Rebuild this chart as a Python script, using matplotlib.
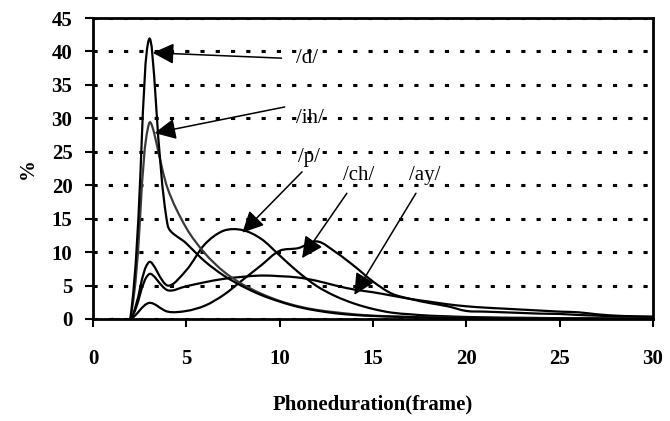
import numpy as np
import matplotlib
matplotlib.use('Agg')
import matplotlib.pyplot as plt
from matplotlib.path import Path
from matplotlib.patches import PathPatch

plt.rcParams['font.family'] = ['Liberation Serif', 'DejaVu Serif']
plt.rcParams['lines.scale_dashes'] = False

frames = list(range(1, 31))
d  = [0, 0, 41.8, 14.0, 11.3, 8.6, 6.5, 4.9, 3.6, 2.6, 1.8, 1.25, 0.85, 0.6, 0.45, 0.35,
      0.28, 0.22, 0.18, 0.15, 0.12, 0.1, 0.1, 0.08, 0.08, 0.07, 0.06, 0.05, 0.05, 0.05]
ih = [0, 0, 29.2, 19.5, 13.6, 9.8, 7.1, 5.2, 3.8, 2.7, 1.9, 1.35, 1.0, 0.7, 0.5, 0.4,
      0.32, 0.26, 0.2, 0.16, 0.14, 0.12, 0.1, 0.1, 0.08, 0.08, 0.07, 0.06, 0.05, 0.05]
p  = [0, 0, 8.5, 5.0, 7.3, 11.2, 13.2, 13.3, 12.0, 9.5, 7.0, 4.9, 3.4, 2.3, 1.5, 0.95,
      0.7, 0.5, 0.4, 0.3, 0.25, 0.2, 0.18, 0.15, 0.12, 0.1, 0.1, 0.08, 0.08, 0.07]
ch = [0, 0, 2.4, 1.1, 1.2, 2.0, 3.6, 5.8, 8.0, 10.2, 10.6, 11.6, 10.0, 7.9, 5.6, 3.8,
      3.0, 2.4, 1.9, 1.2, 1.1, 1.0, 0.9, 0.8, 0.75, 0.6, 0.5, 0.4, 0.35, 0.3]
ay = [0, 0, 6.7, 4.3, 4.9, 5.5, 6.0, 6.3, 6.5, 6.4, 6.2, 5.7, 5.0, 4.4, 4.0, 3.5,
      3.0, 2.6, 2.2, 1.9, 1.7, 1.55, 1.4, 1.25, 1.1, 1.0, 0.7, 0.5, 0.4, 0.35]

labels = ['/d/', '/ih/', '/p/', '/ch/', '/ay/']
# arrow tail, arrow tip, text position (data units)
tails = [(10.1, 39.0), (10.27, 31.7), (11.2, 22.0), (13.6, 18.8), (17.3, 18.8)]
tips = [(3.2, 39.8), (3.3, 27.8), (8.0, 12.9), (11.2, 9.1), (14.0, 3.6)]
text_pos = [(10.9, 38.9), (10.9, 30.0), (10.96, 24.1), (13.37, 21.5), (16.95, 21.5)]


def smooth_path(ax, xs, ys):
    # excel style smoothing: bezier handles weighted by chord length on screen
    pts = ax.transData.transform(np.column_stack([xs, ys]))
    ext = np.vstack([pts[0], pts, pts[-1]])
    seg = np.hypot(*np.diff(ext, axis=0).T)
    verts = [pts[0]]
    codes = [Path.MOVETO]
    for i in range(1, len(ext) - 2):
        t0 = ext[i + 1] - ext[i - 1]
        t1 = ext[i + 2] - ext[i]
        w0 = seg[i] / max(seg[i - 1] + seg[i], 1e-9)
        w1 = seg[i] / max(seg[i] + seg[i + 1], 1e-9)
        c1 = ext[i] + t0 * w0 / 3
        c2 = ext[i + 1] - t1 * w1 / 3
        verts += [c1, c2, ext[i + 1]]
        codes += [Path.CURVE4] * 3
    verts = ax.transData.inverted().transform(np.array(verts))
    return Path(verts, codes)


fig = plt.figure(figsize=(6.7, 4.21), dpi=100)
ax = fig.add_axes([0.1388, 0.2423, 0.8358, 0.7149])
ax.set_xlim(0, 30)
ax.set_ylim(0, 45)

ax.grid(axis='y', color='k', linestyle=(0, (3, 8)), linewidth=2.2)
ax.set_axisbelow(True)

for series, col in [(ch, 'k'), (ay, 'k'), (p, 'k'), (ih, '#3a3a3a'), (d, 'k')]:
    ax.add_patch(PathPatch(smooth_path(ax, frames, series), fill=False,
                           edgecolor=col, lw=1.6, zorder=3))

for lab, tail, tip, tp in zip(labels, tails, tips, text_pos):
    ax.annotate('', xy=tip, xytext=tail,
                arrowprops=dict(arrowstyle='-|>,head_length=0.65,head_width=0.32',
                                color='k', lw=1.1, mutation_scale=20,
                                shrinkA=0, shrinkB=0), zorder=4)
    ax.text(tp[0], tp[1], lab, fontsize=15, va='center', ha='left', zorder=4)

ax.set_xticks([0, 5, 10, 15, 20, 25, 30])
ax.set_yticks(range(0, 50, 5))
for s in ax.spines.values():
    s.set_linewidth(2)
    s.set_zorder(5)
ax.tick_params(direction='out', length=5.8, width=1.5, labelsize=15)
ax.tick_params(axis='x', pad=16)
ax.tick_params(axis='y', pad=9)
for t in ax.get_xticklabels() + ax.get_yticklabels():
    t.set_fontweight('bold')

ax.set_xlabel('Phoneduration(frame)', fontsize=15, fontweight='bold', labelpad=18)
ax.set_ylabel('%', fontsize=15, fontweight='bold', labelpad=10)

plt.savefig('out.png', dpi=100)
